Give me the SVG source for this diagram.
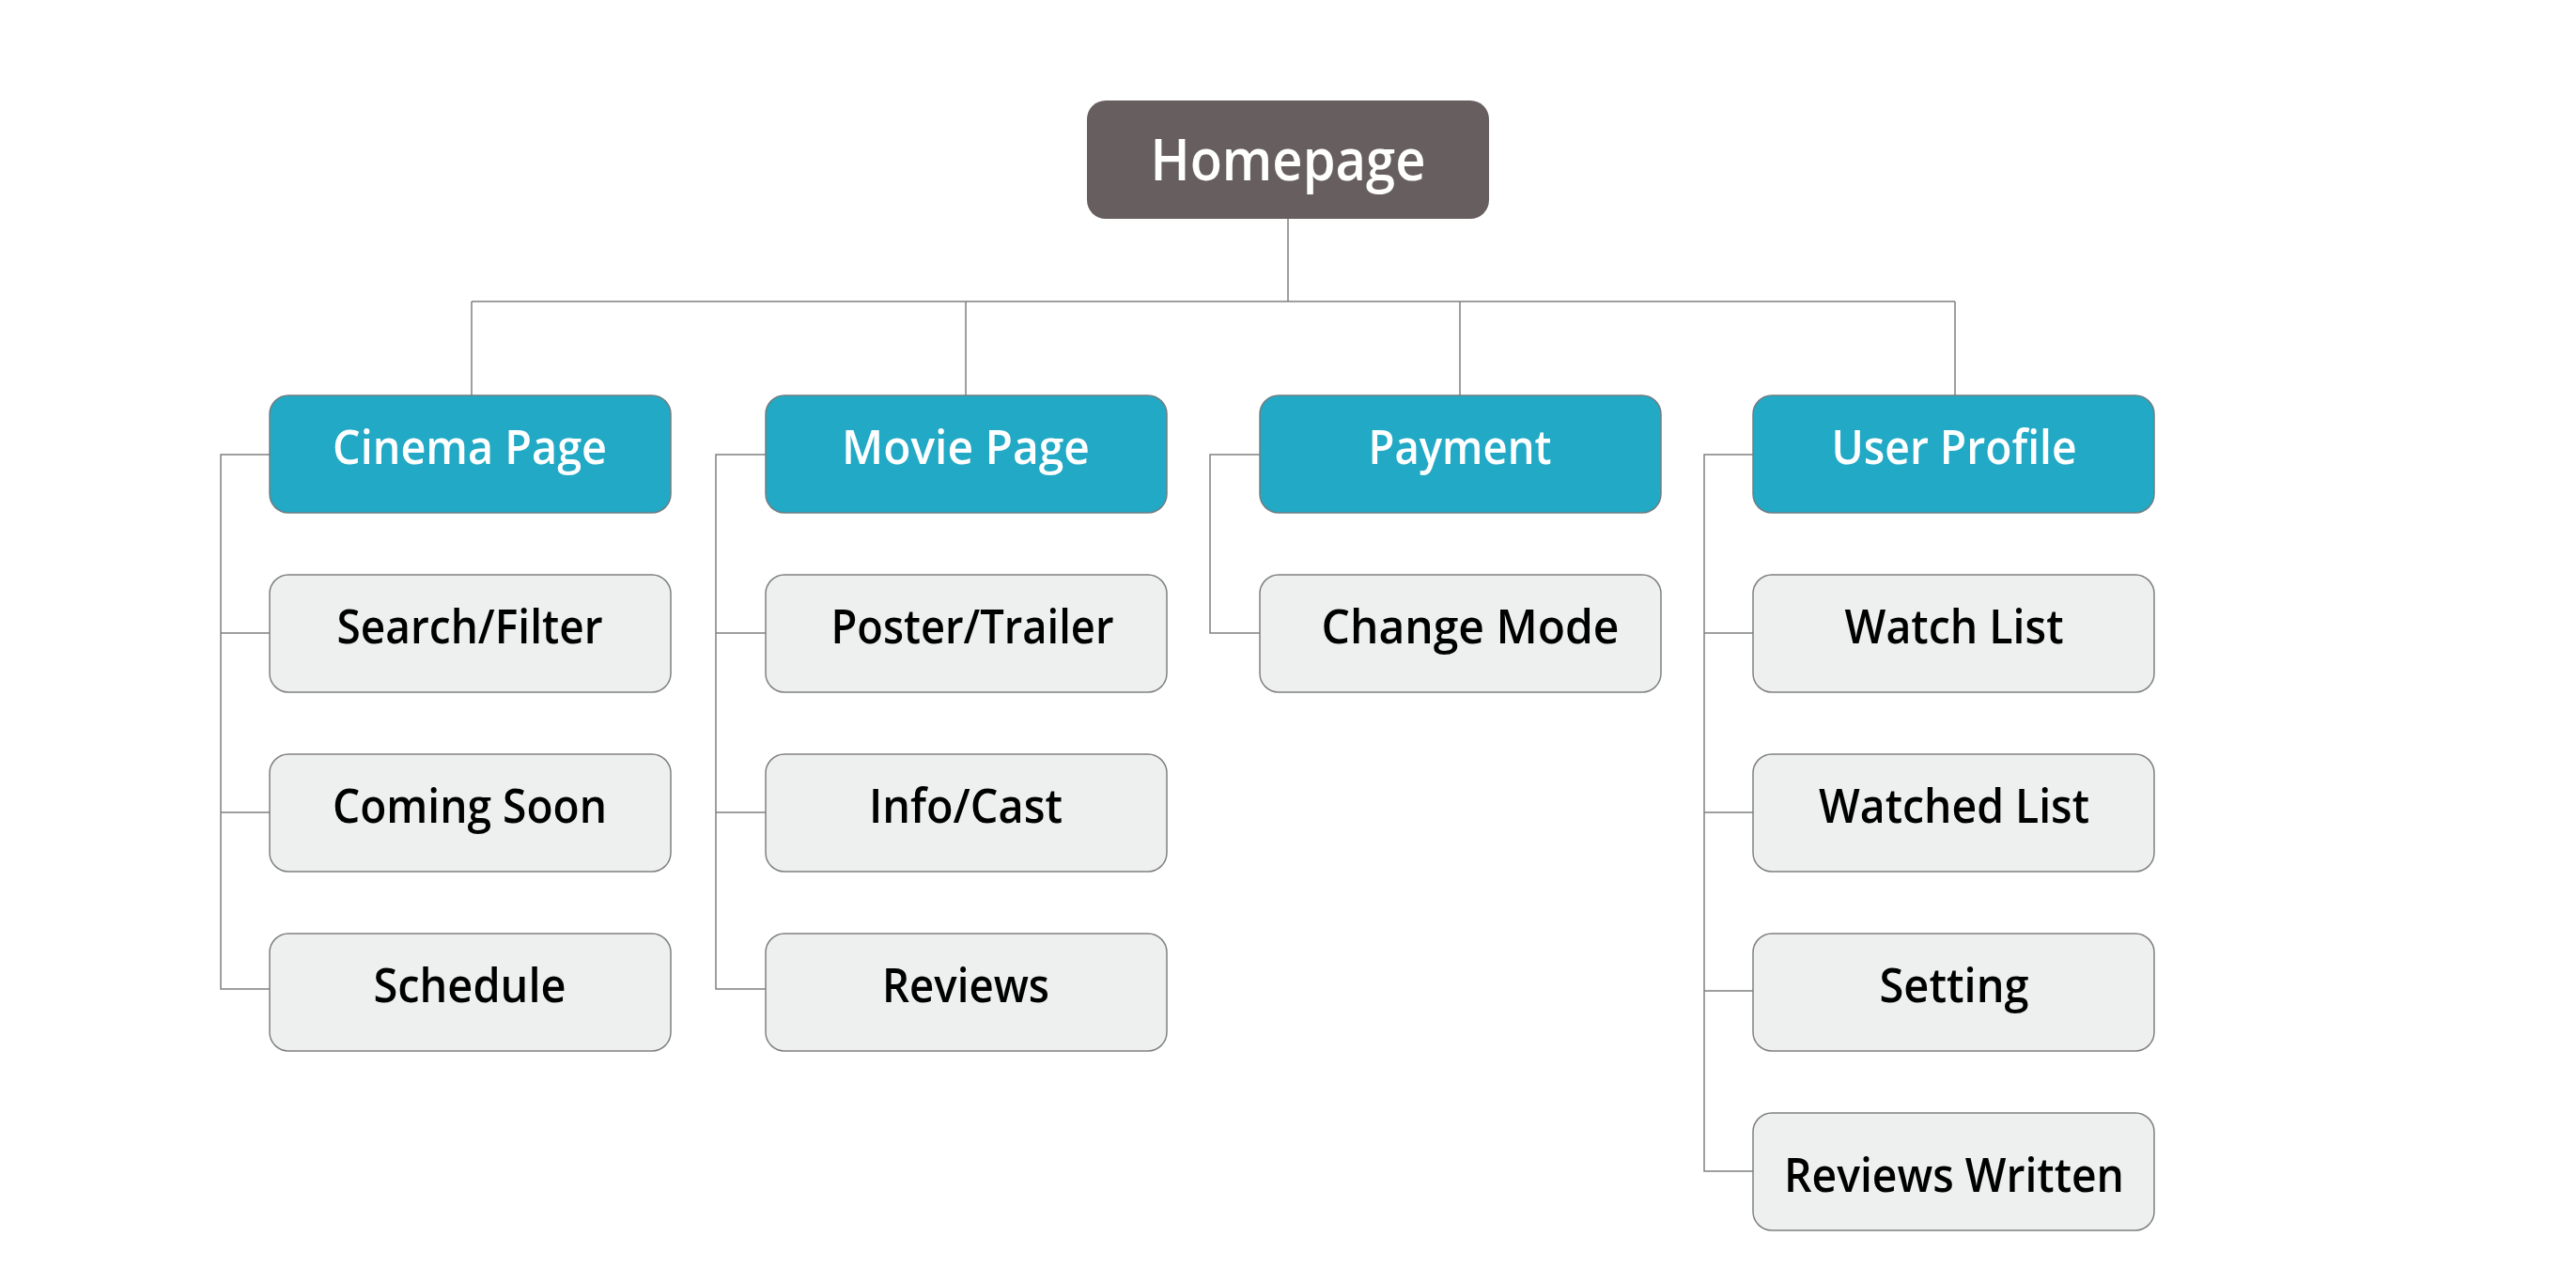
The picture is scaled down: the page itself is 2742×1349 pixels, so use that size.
<svg xmlns="http://www.w3.org/2000/svg" width="2742" height="1349" viewBox="0 0 2742 1349">
<style>
.root{fill:#675f5f;stroke:none}
.sec{fill:#21a9c5;stroke:#6f7f83;stroke-width:1.5}
.leaf{fill:#eef0ef;stroke:#808080;stroke-width:1.5}
.t{font-family:"Open Sans","Noto Sans",sans-serif;font-weight:600;text-anchor:middle}
.tw{fill:#ffffff;font-size:51px}
.tr{fill:#ffffff;font-size:61px}
.tb{fill:#000000;font-size:51px}
.c{fill:none;stroke:#808080;stroke-width:1.5}
</style>
<rect width="2742" height="1349" fill="#ffffff"/>
<g id="connectors">
<path class="c" d="M1371 233V321M502 321H2081M502 321V421M1028 321V421M1554 321V421M2081 321V421"/>
<path class="c" d="M287 484H235V1053H287M235 674H287M235 865H287"/>
<path class="c" d="M815 484H762V1053H815M762 674H815M762 865H815"/>
<path class="c" d="M1341 484H1288V674H1341"/>
<path class="c" d="M1866 484H1814V1247H1866M1814 674H1866M1814 865H1866M1814 1055H1866"/>
</g>
<g id="homepage"><rect class="root" x="1157" y="107" width="428" height="126" rx="20"/><text class="t tr" x="1371" y="192" textLength="293" lengthAdjust="spacingAndGlyphs">Homepage</text></g>
<g id="cinema-page"><rect class="sec" x="287" y="421" width="427" height="125" rx="20"/><text class="t tw" x="500" y="494" textLength="292" lengthAdjust="spacingAndGlyphs">Cinema Page</text></g>
<g id="movie-page"><rect class="sec" x="815" y="421" width="427" height="125" rx="20"/><text class="t tw" x="1028" y="494" textLength="264" lengthAdjust="spacingAndGlyphs">Movie Page</text></g>
<g id="payment"><rect class="sec" x="1341" y="421" width="427" height="125" rx="20"/><text class="t tw" x="1554" y="494" textLength="195" lengthAdjust="spacingAndGlyphs">Payment</text></g>
<g id="user-profile"><rect class="sec" x="1866" y="421" width="427" height="125" rx="20"/><text class="t tw" x="2080" y="494" textLength="261" lengthAdjust="spacingAndGlyphs">User Profile</text></g>
<g id="search-filter"><rect class="leaf" x="287" y="612" width="427" height="125" rx="20"/><text class="t tb" x="500" y="685" textLength="283" lengthAdjust="spacingAndGlyphs">Search/Filter</text></g>
<g id="coming-soon"><rect class="leaf" x="287" y="803" width="427" height="125" rx="20"/><text class="t tb" x="500" y="876" textLength="292" lengthAdjust="spacingAndGlyphs">Coming Soon</text></g>
<g id="schedule"><rect class="leaf" x="287" y="994" width="427" height="125" rx="20"/><text class="t tb" x="500" y="1067" textLength="205" lengthAdjust="spacingAndGlyphs">Schedule</text></g>
<g id="poster-trailer"><rect class="leaf" x="815" y="612" width="427" height="125" rx="20"/><text class="t tb" x="1035" y="685" textLength="301" lengthAdjust="spacingAndGlyphs">Poster/Trailer</text></g>
<g id="info-cast"><rect class="leaf" x="815" y="803" width="427" height="125" rx="20"/><text class="t tb" x="1028" y="876" textLength="206" lengthAdjust="spacingAndGlyphs">Info/Cast</text></g>
<g id="reviews"><rect class="leaf" x="815" y="994" width="427" height="125" rx="20"/><text class="t tb" x="1028" y="1067" textLength="178" lengthAdjust="spacingAndGlyphs">Reviews</text></g>
<g id="change-mode"><rect class="leaf" x="1341" y="612" width="427" height="125" rx="20"/><text class="t tb" x="1565" y="685" textLength="317" lengthAdjust="spacingAndGlyphs">Change Mode</text></g>
<g id="watch-list"><rect class="leaf" x="1866" y="612" width="427" height="125" rx="20"/><text class="t tb" x="2080" y="685" textLength="233" lengthAdjust="spacingAndGlyphs">Watch List</text></g>
<g id="watched-list"><rect class="leaf" x="1866" y="803" width="427" height="125" rx="20"/><text class="t tb" x="2080" y="876" textLength="288" lengthAdjust="spacingAndGlyphs">Watched List</text></g>
<g id="setting"><rect class="leaf" x="1866" y="994" width="427" height="125" rx="20"/><text class="t tb" x="2080" y="1067" textLength="159" lengthAdjust="spacingAndGlyphs">Setting</text></g>
<g id="reviews-written"><rect class="leaf" x="1866" y="1185" width="427" height="125" rx="20"/><text class="t tb" x="2080" y="1269" textLength="362" lengthAdjust="spacingAndGlyphs">Reviews Written</text></g>
</svg>
